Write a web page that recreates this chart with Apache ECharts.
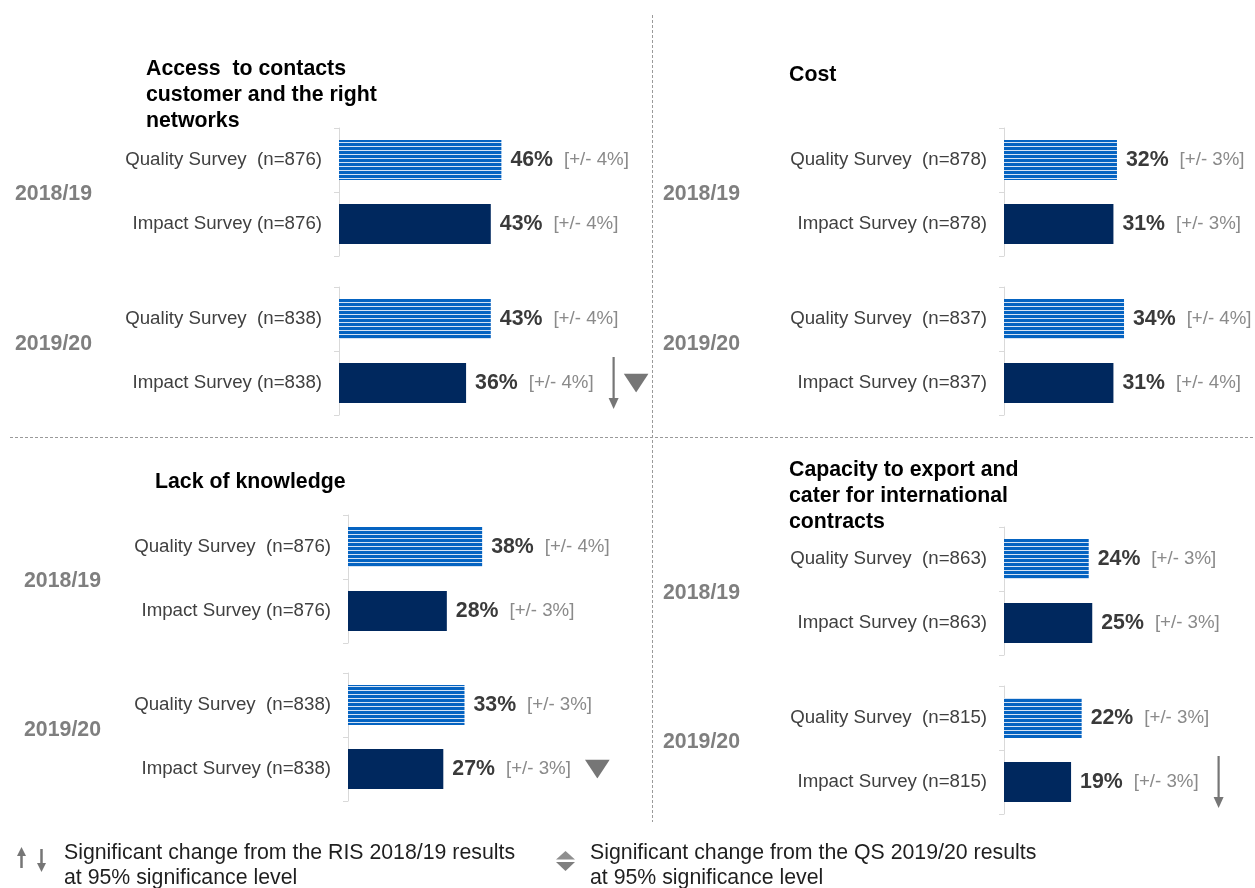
<!DOCTYPE html>
<html><head><meta charset="utf-8">
<script src="https://cdn.jsdelivr.net/npm/echarts@6/dist/echarts.min.js"></script>
<style>html,body{margin:0;padding:0;background:#fff}#c{width:1255px;height:888px}</style>
</head><body><div id="c"></div>
<script>
// ---------- DATA ----------
const panelTitles = [
  'Access  to contacts\ncustomer and the right\nnetworks',
  'Cost',
  'Lack of knowledge',
  'Capacity to export and\ncater for international\ncontracts'
];
const years = ['2018/19', '2019/20'];
const sampleSizes   = [[876, 838], [878, 837], [876, 838], [863, 815]];
const qualityValues = [[46, 43], [32, 34], [38, 33], [24, 22]];
const impactValues  = [[43, 36], [31, 31], [28, 27], [25, 19]];
const qualityMargins = [[4, 4], [3, 4], [4, 3], [3, 3]];
const impactMargins  = [[4, 4], [3, 4], [3, 3], [3, 3]];
// significance markers on the Impact Survey row
const risChange = [[null, 'down'], [null, null], [null, null], [null, 'down']]; // arrow: vs RIS 2018/19
const qsChange  = [[null, 'down'], [null, null], [null, 'down'], [null, null]]; // triangle: vs QS 2019/20
const legendTexts = [
  'Significant change from the RIS 2018/19 results\nat 95% significance level',
  'Significant change from the QS 2019/20 results\nat 95% significance level'
];

// ---------- LAYOUT ----------
const FONT = '"Liberation Sans", Arial, sans-serif';
const axisX = [339, 1004, 348, 1004];
const groupTops = [[128, 287], [128, 287], [515, 673], [527, 686]];
const GROUP_H = 128;
const AXIS_MAX = 50, GRID_W = 176.5;
const titlePos = [[146, 56], [789, 62], [155, 469], [789, 457]];
const yearPos = [[[15, 194], [15, 344]], [[663, 194], [663, 344]], [[24, 581], [24, 730]], [[663, 593], [663, 742]]];

// striped pattern for Quality Survey bars
const pc = document.createElement('canvas');
pc.width = 4; pc.height = 4;
const pctx = pc.getContext('2d');
pctx.fillStyle = '#0563c1'; pctx.fillRect(0, 0, 4, 4);
pctx.fillStyle = '#d5e3f4'; pctx.fillRect(0, 2, 4, 1);
const stripe = { image: pc, repeat: 'repeat' };
const NAVY = '#00285e';

const arrowSvg = 'data:image/svg+xml;utf8,' + encodeURIComponent(
  '<svg xmlns="http://www.w3.org/2000/svg" width="12" height="52"><line x1="6" y1="0" x2="6" y2="42" stroke="#767676" stroke-width="2.2"/><polygon points="1,41 11,41 6,52" fill="#767676"/></svg>');
const triSvg = 'data:image/svg+xml;utf8,' + encodeURIComponent(
  '<svg xmlns="http://www.w3.org/2000/svg" width="25" height="19"><polygon points="0,0 25,0 12.5,19" fill="#767676"/></svg>');

const grids = [], xAxes = [], yAxes = [], series = [];
for (let p = 0; p < 4; p++) {
  for (let y = 0; y < 2; y++) {
    const gi = p * 2 + y;
    const n = sampleSizes[p][y];
    grids.push({ left: axisX[p], top: groupTops[p][y], width: GRID_W, height: GROUP_H });
    xAxes.push({ type: 'value', gridIndex: gi, min: 0, max: AXIS_MAX, show: false });
    yAxes.push({
      type: 'category', gridIndex: gi, inverse: true,
      data: ['Quality Survey  (n=' + n + ')', 'Impact Survey (n=' + n + ')'],
      axisLine: { lineStyle: { color: '#d9d9d9', width: 1 } },
      axisTick: { show: true, length: 5, lineStyle: { color: '#d9d9d9' } },
      axisLabel: { margin: 17, fontSize: 18.7, color: '#404040', fontFamily: FONT },
      splitLine: { show: false }
    });
    series.push({
      type: 'bar', xAxisIndex: gi, yAxisIndex: gi, barWidth: 40,
      silent: true, animation: false,
      data: [
        { value: qualityValues[p][y], itemStyle: { color: stripe } },
        { value: impactValues[p][y], itemStyle: { color: NAVY } }
      ],
      label: {
        show: true, position: 'right', distance: 9,
        formatter: (function (pp, yy) {
          return function (prm) {
            const isImpact = prm.dataIndex === 1;
            const v = isImpact ? impactValues[pp][yy] : qualityValues[pp][yy];
            const m = isImpact ? impactMargins[pp][yy] : qualityMargins[pp][yy];
            let s = '{v|' + v + '%}{g|}{m|[+/- ' + m + '%]}';
            if (isImpact && (risChange[pp][yy] || qsChange[pp][yy])) {
              s += '{s|}';
              if (risChange[pp][yy]) s += '{arr|}{s2|}';
              if (qsChange[pp][yy]) s += '{tri|}';
            }
            return s;
          };
        })(p, y),
        rich: {
          v: { fontSize: 21.3, fontWeight: 'bold', color: '#3a3a3a', fontFamily: FONT },
          g: { width: 11, height: 10 },
          m: { fontSize: 18.7, color: '#8a8a8a', fontFamily: FONT },
          s: { width: 14, height: 10 },
          s2: { width: 4, height: 10 },
          arr: { width: 12, height: 52, backgroundColor: { image: arrowSvg } },
          tri: { width: 25, height: 19, backgroundColor: { image: triSvg } }
        }
      }
    });
  }
}

const graphic = [];
// dashed dividers
graphic.push({ type: 'line', shape: { x1: 652.5, y1: 15, x2: 652.5, y2: 822 }, style: { stroke: '#9a9a9a', lineWidth: 1, lineDash: [3, 2] }, silent: true });
graphic.push({ type: 'line', shape: { x1: 10, y1: 437.5, x2: 1255, y2: 437.5 }, style: { stroke: '#9a9a9a', lineWidth: 1, lineDash: [3, 2] }, silent: true });
// titles and years
for (let p = 0; p < 4; p++) {
  graphic.push({ type: 'text', x: titlePos[p][0], y: titlePos[p][1], silent: true,
    style: { text: panelTitles[p], font: 'bold 21.3px ' + FONT, lineHeight: 26, fill: '#000', verticalAlign: 'top' } });
  for (let y = 0; y < 2; y++) {
    graphic.push({ type: 'text', x: yearPos[p][y][0], y: yearPos[p][y][1], silent: true,
      style: { text: years[y], font: 'bold 21.3px ' + FONT, fill: '#7f7f7f', verticalAlign: 'middle' } });
  }
}
// legend
const LG = '#767676';
graphic.push({ type: 'line', shape: { x1: 21.5, y1: 854, x2: 21.5, y2: 868 }, style: { stroke: LG, lineWidth: 2.5 }, silent: true });
graphic.push({ type: 'polygon', shape: { points: [[17, 856], [26, 856], [21.5, 847]] }, style: { fill: LG }, silent: true });
graphic.push({ type: 'line', shape: { x1: 41.5, y1: 849, x2: 41.5, y2: 864 }, style: { stroke: LG, lineWidth: 2.5 }, silent: true });
graphic.push({ type: 'polygon', shape: { points: [[37, 863], [46, 863], [41.5, 872]] }, style: { fill: LG }, silent: true });
graphic.push({ type: 'polygon', shape: { points: [[556, 859.5], [575, 859.5], [565.5, 851]] }, style: { fill: '#8f8f8f' }, silent: true });
graphic.push({ type: 'polygon', shape: { points: [[556, 862], [575, 862], [565.5, 871]] }, style: { fill: '#7f7f7f' }, silent: true });
graphic.push({ type: 'text', x: 64, y: 840.5, silent: true,
  style: { text: legendTexts[0], font: '21.3px ' + FONT, lineHeight: 25, fill: '#1f1f1f', verticalAlign: 'top' } });
graphic.push({ type: 'text', x: 590, y: 840.5, silent: true,
  style: { text: legendTexts[1], font: '21.3px ' + FONT, lineHeight: 25, fill: '#1f1f1f', verticalAlign: 'top' } });

const chart = echarts.init(document.getElementById('c'), null, { renderer: 'canvas' });
chart.setOption({
  backgroundColor: '#ffffff',
  animation: false,
  grid: grids, xAxis: xAxes, yAxis: yAxes, series: series, graphic: graphic
});
</script>
</body></html>
